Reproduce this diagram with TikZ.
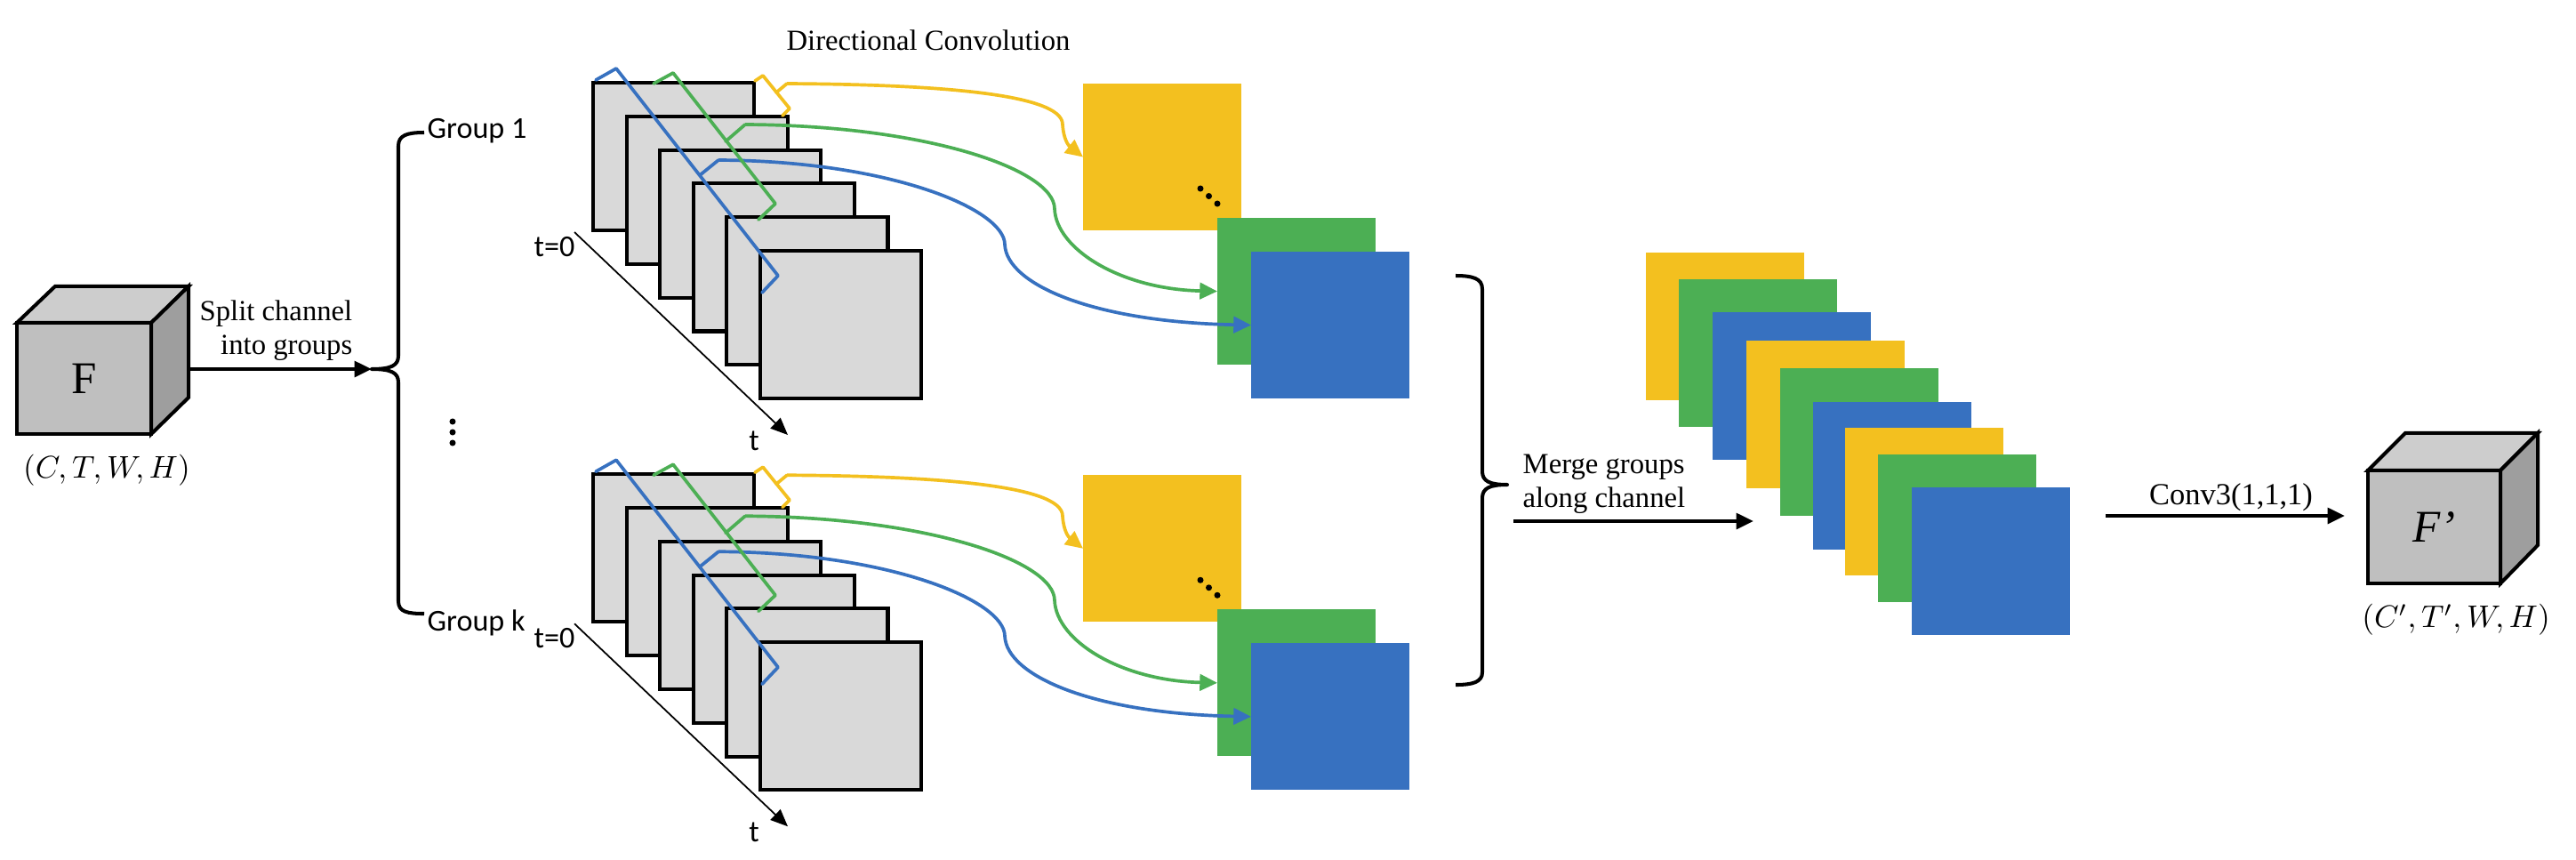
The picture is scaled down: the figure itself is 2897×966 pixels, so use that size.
\documentclass[tikz,border=0pt]{standalone}
\usepackage{fontspec}
\setmainfont{Liberation Serif}
\newfontfamily\labelsans{Carlito}
\usetikzlibrary{arrows.meta}
\definecolor{yc}{RGB}{243,192,31}
\definecolor{gc}{RGB}{76,175,84}
\definecolor{bc}{RGB}{55,113,192}
\definecolor{frg}{RGB}{217,217,217}
\definecolor{cfront}{RGB}{191,191,191}
\definecolor{ctop}{RGB}{205,205,205}
\definecolor{cside}{RGB}{158,158,158}
\tikzset{
  frm/.style={draw=black,line width=1.15pt,fill=frg,minimum width=1.81cm,minimum height=1.66cm,anchor=north west,inner sep=0pt,outer sep=0pt},
  csq/.style={minimum width=1.78cm,minimum height=1.65cm,anchor=north west,inner sep=0pt,outer sep=0pt},
  msq/.style={csq,minimum height=1.66cm},
  brk/.style={line width=1.05pt,line join=round,line cap=round},
  convarrow/.style={line width=1.05pt,-{Triangle[length=5.6pt,width=5.2pt]}},
  bracepath/.style={line width=1.15pt,line join=round},
  blackarrow/.style={line width=1.15pt,-{Triangle[length=5.5pt,width=5pt]}},
  taxis/.style={line width=0.5pt,-{Triangle[length=5.5pt,width=4.6pt]}},
  serif/.style={font=\fontsize{9.3}{10.9}\selectfont,inner sep=0pt},
  sanslab/.style={font=\labelsans\fontsize{9.7}{11.5}\selectfont,inner sep=0pt},
  cubefront/.style={draw=black,line width=1.15pt,fill=cfront,inner sep=0pt,outer sep=0pt},
  cubeface/.style={draw=black,line width=1.15pt,line join=miter},
  dotmark/.style={fill=black}
}
\begin{document}
\begin{tikzpicture}[x=0.01cm,y=-0.01cm]
\fill[white] (0,0) rectangle (2897,966);
\useasboundingbox (0,0) rectangle (2897,966);

% ---------- input cube F ----------
\node[cubefront,minimum width=1.51cm,minimum height=1.25cm] (F) at (94.5,425.5) {\fontsize{14.5}{17}\selectfont F};
\draw[cubeface,fill=ctop] (F.north west) -- ++(43,-41) -- ++(150,0) -- (F.north east) -- cycle;
\draw[cubeface,fill=cside] (F.north east) -- ++(42,-41) -- ++(0,125) -- (F.south east) -- cycle;
\node[inner sep=0pt,font=\fontsize{10}{12}\selectfont] (Fdim) at (120,529) {$(C,T,W,H)$};

% ---------- split arrow and left brace ----------
\coordinate (splitstart) at (212,415);
\coordinate (lbt) at (418,415);
\draw[blackarrow] (splitstart) -- (lbt);
\node[serif,align=right,anchor=east] (splitlab) at (397,372) {Split channel\\ into groups};
\draw[bracepath] (477,149) .. controls (458,149) and (448,152) .. (448,164) -- (448,400)
  .. controls (448,411) and (440,415) .. (lbt)
  .. controls (440,415) and (448,419) .. (448,430) -- (448,676)
  .. controls (448,688) and (458,690) .. (477,690);
\node[sanslab,anchor=base west] (g1) at (480,155) {Group 1};
\node[sanslab,anchor=base west] (gk) at (480,709) {Group k};
\fill[dotmark] (509,474) circle[radius=1pt];
\fill[dotmark] (509,486) circle[radius=1pt];
\fill[dotmark] (509,498) circle[radius=1pt];

\node[serif,anchor=base] (dirconv) at (1044,56) {Directional Convolution};

% ---------- the two groups ----------
\foreach \s/\sh in {a/0,b/-4.4}{
\begin{scope}[yshift=\sh cm]
  \foreach \i in {0,...,5}{
    \node[frm] (fr\s\i) at ({667+37.6*\i},{93+37.8*\i}) {};
  }
  \node[csq,fill=yc] (ysq\s) at (1218,94) {};
  \node[csq,fill=gc] (gsq\s) at (1369,245) {};
  \node[csq,fill=bc] (bsq\s) at (1407,283) {};
  \fill[dotmark] (1350,212) circle[radius=1pt];
  \fill[dotmark] (1359.5,220.5) circle[radius=1pt];
  \fill[dotmark] (1369,229) circle[radius=1pt];
  % blue
  \draw[brk,bc] (670,90) -- (693,77) -- (875,310) -- (857,329);
  \coordinate (bst\s) at (808,180);
  \draw[brk,bc] (787,197) -- (bst\s);
  \draw[convarrow,bc] (bst\s) .. controls (1000,181) and (1130,235) .. (1130,275)
     .. controls (1132,320) and (1230,362) .. (bsq\s.west);
  % green
  \draw[brk,gc] (735,94) -- (757,82) -- (872,229) -- (853,247);
  \coordinate (gst\s) at (838,140);
  \draw[brk,gc] (816,159) -- (gst\s);
  \draw[convarrow,gc] (gst\s) .. controls (1040,141) and (1186,190) .. (1186,235)
     .. controls (1188,280) and (1260,325) .. (gsq\s.west);
  % yellow
  \draw[brk,yc] (849,91) -- (858,85) -- (888,122) -- (880,130);
  \coordinate (yst\s) at (885,94);
  \draw[brk,yc] (873,104) -- (yst\s);
  \draw[convarrow,yc] (yst\s) .. controls (1050,95) and (1195,105) .. (1195,140)
     .. controls (1196,157) and (1202,164) .. (ysq\s.west);
  % time axis
  \coordinate (tz\s) at (646,261);
  \coordinate (te\s) at (886,489);
  \draw[taxis] (tz\s) -- (te\s);
  \node[sanslab,anchor=base east] (tzl\s) at (647,288) {t=0};
  \node[sanslab,anchor=base] (tel\s) at (848,506) {t};
\end{scope}
}

% ---------- right brace and merge ----------
\coordinate (rbt) at (1695,545);
\draw[bracepath] (1637,310) .. controls (1656,310) and (1667,313) .. (1667,325) -- (1667,530)
  .. controls (1667,541) and (1675,545) .. (rbt)
  .. controls (1675,545) and (1667,549) .. (1667,560) -- (1667,756)
  .. controls (1667,767) and (1656,770) .. (1637,770);
\node[serif,align=left,anchor=west] (mergelab) at (1712,544) {Merge groups\\along channel};
\coordinate (ms) at (1702,586);
\coordinate (me) at (1972,586);
\draw[blackarrow] (ms) -- (me);

\foreach \x/\y/\c [count=\k] in {1851/284/yc,1888/314/gc,1926/351/bc,1964/383/yc,2002/414/gc,2039/452/bc,2075/481/yc,2112/511/gc,2150/548/bc}{
  \node[msq,fill=\c] (m\k) at (\x,\y) {};
}

% ---------- conv and output cube ----------
\coordinate (cs) at (2368,580);
\coordinate (ce) at (2637,580);
\draw[blackarrow] (cs) -- (ce);
\node[inner sep=0pt,anchor=base,font=\fontsize{9.8}{12}\selectfont] (convlab) at (2509,567) {Conv3(1,1,1)};

\node[cubefront,minimum width=1.49cm,minimum height=1.27cm] (Fp) at (2737.5,592.5) {\fontsize{14.5}{17}\selectfont\itshape F’};
\draw[cubeface,fill=ctop] (Fp.north west) -- ++(42,-42) -- ++(149,0) -- (Fp.north east) -- cycle;
\draw[cubeface,fill=cside] (Fp.north east) -- ++(42,-42) -- ++(0,126) -- (Fp.south east) -- cycle;
\node[inner sep=0pt,font=\fontsize{10}{12}\selectfont] (Fpdim) at (2762,697) {$(C',T',W,H)$};
\end{tikzpicture}
\end{document}
